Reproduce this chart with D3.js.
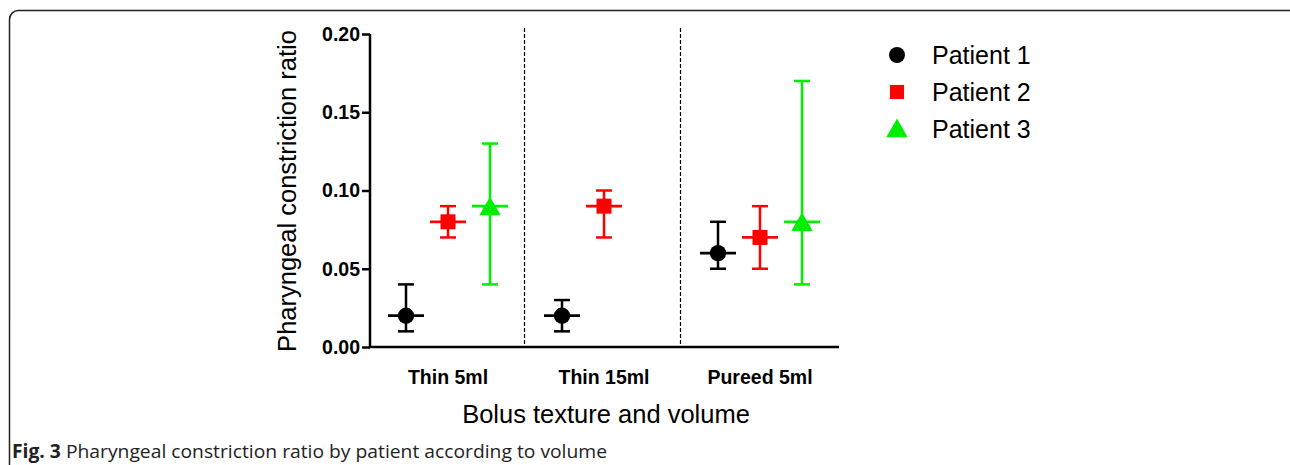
<!DOCTYPE html>
<html>
<head>
<meta charset="utf-8">
<script src="https://cdn.jsdelivr.net/npm/d3@7"></script>
<style>
  body { margin: 0; background: #fff; }
</style>
</head>
<body>
<div id="container"></div>
<script>
// Data
const categories = ['Thin 5ml', 'Thin 15ml', 'Pureed 5ml'];
const patients = ['Patient 1', 'Patient 2', 'Patient 3'];
const colors = ['#000000', '#ff0000', '#00ee00'];
// mean, lower, upper per category (null = no data)
const patient1 = [[0.02, 0.01, 0.04], [0.02, 0.01, 0.03], [0.06, 0.05, 0.08]];
const patient2 = [[0.08, 0.07, 0.09], [0.09, 0.07, 0.10], [0.07, 0.05, 0.09]];
const patient3 = [[0.09, 0.04, 0.13], null, [0.08, 0.04, 0.17]];
const yTicks = [0, 0.05, 0.10, 0.15, 0.20];

const series = [patient1, patient2, patient3];
const font = 'Liberation Sans, Arial, sans-serif';

const svg = d3.select('#container')
    .append('svg')
    .attr('width', 1290)
    .attr('height', 465);

// frame around the figure
svg.append('rect')
    .attr('x', 9.5)
    .attr('y', 10.5)
    .attr('width', 1300)
    .attr('height', 500)
    .attr('rx', 9)
    .attr('fill', 'none')
    .attr('stroke', '#222')
    .attr('stroke-width', 1.5);

const x = d3.scaleBand()
    .domain(categories)
    .range([370, 838]);

const xInner = d3.scalePoint()
    .domain(patients)
    .range([-42, 42]);

const y = d3.scaleLinear()
    .domain([0, 0.20])
    .range([347, 34]);

// dashed separators
svg.selectAll('line.sep')
    .data(categories.slice(1))
    .enter()
    .append('line')
    .attr('class', 'sep')
    .attr('x1', d => Math.round(x(d)) - 1.5)
    .attr('x2', d => Math.round(x(d)) - 1.5)
    .attr('y1', 28)
    .attr('y2', 347)
    .attr('stroke', '#000')
    .attr('stroke-width', 1.2)
    .attr('stroke-dasharray', '4,2');

// y axis
const yAxis = svg.append('g')
    .attr('transform', 'translate(370,0)')
    .call(d3.axisLeft(y).tickValues(yTicks).tickFormat(d3.format('.2f')).tickSize(8));
yAxis.select('.domain').attr('stroke-width', 2.5).attr('d', 'M0,' + y(0) + 'V' + y(0.2));
yAxis.selectAll('.tick line').attr('stroke-width', 2.5);
yAxis.selectAll('.tick text')
    .attr('x', -10)
    .attr('font-family', font)
    .attr('font-weight', 'bold')
    .attr('font-size', 19.5)
    .attr('fill', '#000');

// x axis
const xAxis = svg.append('g')
    .attr('transform', 'translate(0,347)')
    .call(d3.axisBottom(x).tickSize(0));
xAxis.select('.domain').attr('stroke-width', 2.5).attr('d', 'M369,0H839');
xAxis.selectAll('.tick text')
    .attr('y', 23)
    .attr('font-family', font)
    .attr('font-weight', 'bold')
    .attr('font-size', 19.5)
    .attr('fill', '#000');

// axis titles
svg.append('text')
    .attr('transform', 'translate(296,191) rotate(-90)')
    .attr('text-anchor', 'middle')
    .attr('font-family', font)
    .attr('font-size', 25.5)
    .text('Pharyngeal constriction ratio');

svg.append('text')
    .attr('x', 606)
    .attr('y', 423)
    .attr('text-anchor', 'middle')
    .attr('font-family', font)
    .attr('font-size', 25.5)
    .text('Bolus texture and volume');

// markers
const symbols = [d3.symbolCircle, d3.symbolSquare, d3.symbolTriangle];
const symbolSizes = [210, 225, 200];

series.forEach((vals, si) => {
    const g = svg.append('g');
    const pts = vals
        .map((v, ci) => v ? { cat: categories[ci], mean: v[0], lo: v[1], hi: v[2] } : null)
        .filter(d => d);
    const cx = d => x(d.cat) + x.bandwidth() / 2 + xInner(patients[si]);

    const grp = g.selectAll('g.pt')
        .data(pts)
        .enter()
        .append('g')
        .attr('class', 'pt');

    grp.append('line')
        .attr('x1', cx).attr('x2', cx)
        .attr('y1', d => y(d.lo)).attr('y2', d => y(d.hi))
        .attr('stroke', colors[si]).attr('stroke-width', 2.5);
    grp.append('line')
        .attr('x1', d => cx(d) - 8).attr('x2', d => cx(d) + 8)
        .attr('y1', d => y(d.hi)).attr('y2', d => y(d.hi))
        .attr('stroke', colors[si]).attr('stroke-width', 2.5);
    grp.append('line')
        .attr('x1', d => cx(d) - 8).attr('x2', d => cx(d) + 8)
        .attr('y1', d => y(d.lo)).attr('y2', d => y(d.lo))
        .attr('stroke', colors[si]).attr('stroke-width', 2.5);
    grp.append('line')
        .attr('x1', d => cx(d) - 18).attr('x2', d => cx(d) + 18)
        .attr('y1', d => y(d.mean)).attr('y2', d => y(d.mean))
        .attr('stroke', colors[si]).attr('stroke-width', 2.8);
    grp.append('path')
        .attr('transform', d => 'translate(' + cx(d) + ',' + (y(d.mean) + (si === 2 ? 3 : 0)) + ')')
        .attr('d', d3.symbol().type(symbols[si]).size(symbolSizes[si]))
        .attr('fill', colors[si]);
});

// legend
const legend = svg.append('g');
patients.forEach((p, i) => {
    const ly = 55 + i * 37;
    legend.append('path')
        .attr('transform', 'translate(897,' + (ly + (i === 2 ? 2 : 0)) + ')')
        .attr('d', d3.symbol().type(symbols[i]).size(200))
        .attr('fill', colors[i]);
    legend.append('text')
        .attr('x', 932)
        .attr('y', ly + 9)
        .attr('font-family', font)
        .attr('font-size', 25)
        .text(p);
});

// caption
const cap = svg.append('text')
    .attr('x', 12)
    .attr('y', 458)
    .attr('font-family', 'Open Sans, sans-serif')
    .attr('font-size', 19)
    .attr('textLength', 595)
    .attr('lengthAdjust', 'spacingAndGlyphs')
    .attr('fill', '#222');
cap.append('tspan').attr('font-weight', 'bold').text('Fig. 3');
cap.append('tspan').text(' Pharyngeal constriction ratio by patient according to volume');
</script>
</body>
</html>
